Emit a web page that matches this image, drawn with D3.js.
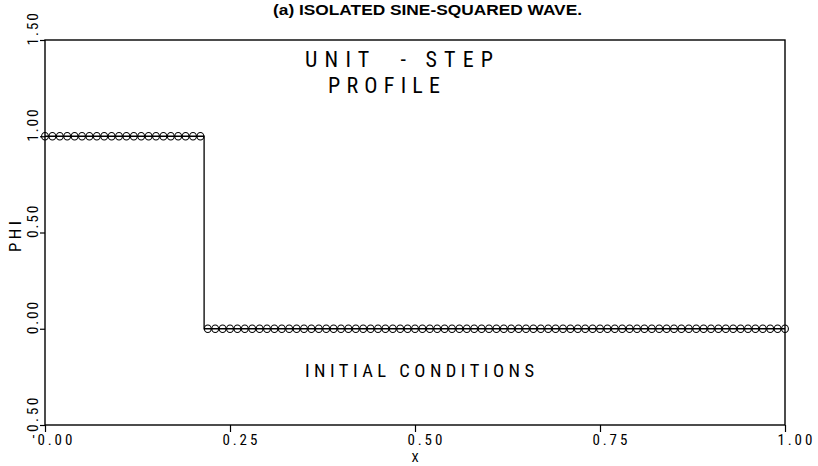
<!DOCTYPE html>
<html><head><meta charset="utf-8">
<script src="https://cdn.jsdelivr.net/npm/d3@7"></script>
<style>
html,body{margin:0;padding:0;background:#fff;}
svg text{fill:#000;}
</style></head>
<body>
<svg id="chart" width="818" height="466"></svg>
<script>
// ---- data ----
const gridStep = 0.01;               // grid spacing of the plotted points
const phiValues = [
  1,1,1,1,1,1,1,1,1,1, 1,1,1,1,1,1,1,1,1,1, 1,1,
  0,0,0,0,0,0,0,0, 0,0,0,0,0,0,0,0,0,0, 0,0,0,0,0,0,0,0,0,0,
  0,0,0,0,0,0,0,0,0,0, 0,0,0,0,0,0,0,0,0,0, 0,0,0,0,0,0,0,0,0,0,
  0,0,0,0,0,0,0,0,0,0, 0,0,0,0,0,0,0,0,0,0, 0
];
const xTickValues = [0, 0.25, 0.5, 0.75, 1.0];
const xTickLabels = ["0.00", "0.25", "0.50", "0.75", "1.00"];
const yTickValues = [-0.5, 0, 0.5, 1.0, 1.5];
const yTickLabels = ["-0.50", "0.00", "0.50", "1.00", "1.50"];
const titleText = "(a) ISOLATED SINE-SQUARED WAVE.";
const xLabel = "X";
const yLabel = "PHI";
const noteTop1 = "UNIT  - STEP";
const noteTop2 = "PROFILE";
const noteBottom = "INITIAL CONDITIONS";

const points = phiValues.map((v, i) => ({x: i * gridStep, y: v}));

// ---- layout ----
const FONT = "'Liberation Sans Narrow', 'Roboto Condensed', 'Liberation Sans', sans-serif";
const svg = d3.select("#chart");
const L = 45, R = 785, T = 40, B = 425;
const x = d3.scaleLinear().domain([0, 1]).range([L, R]);
const y = d3.scaleLinear().domain([-0.5, 1.5]).range([B, T]);

// title
svg.append("text")
  .attr("x", 273).attr("y", 15)
  .attr("textLength", 309).attr("lengthAdjust", "spacingAndGlyphs")
  .style("font-family", "'Liberation Sans', Arial, sans-serif")
  .style("font-weight", "bold").style("font-size", "14px")
  .text(titleText);

// frame
svg.append("rect")
  .attr("x", L).attr("y", T).attr("width", R - L).attr("height", B - T)
  .attr("fill", "none").attr("stroke", "#000").attr("stroke-width", 1.4);

function styleLabel(sel, size) {
  sel.style("font-family", FONT)
     .style("font-size", size + "px")
     .attr("lengthAdjust", "spacing")
     .attr("fill", "#000");
}

// x axis
const xa = svg.append("g").attr("transform", `translate(0,${B})`)
  .call(d3.axisBottom(x).tickValues(xTickValues)
    .tickFormat((d, i) => xTickLabels[i]).tickSize(7));
xa.select(".domain").remove();
xa.selectAll("line").attr("stroke", "#000").attr("stroke-width", 1.2);
xa.selectAll("text")
  .attr("text-anchor", "start").attr("x", -8).attr("y", 20).attr("dy", null)
  .call(styleLabel, 15)
  .attr("textLength", function () { return this.textContent.length * 9.2 - 2; });

// y axis
const ya = svg.append("g").attr("transform", `translate(${L},0)`)
  .call(d3.axisLeft(y).tickValues(yTickValues)
    .tickFormat((d, i) => yTickLabels[i]).tickSize(5));
ya.select(".domain").remove();
ya.selectAll("line").attr("stroke", "#000").attr("stroke-width", 1.2);
ya.selectAll("text")
  .attr("text-anchor", "start")
  .attr("transform", "rotate(-90)")
  .attr("x", function () { return this.textContent.startsWith("-") ? -13 : -5; })
  .attr("y", -7).attr("dy", null)
  .call(styleLabel, 15.5)
  .attr("textLength", function () { return this.textContent.length * 8.6 - 2; });

// axis titles
svg.append("text").attr("x", x(0.5)).attr("y", 462)
  .attr("text-anchor", "middle")
  .style("font-family", FONT).style("font-size", "13px")
  .text(xLabel);
svg.append("text")
  .attr("transform", `translate(21,${y(0.5) + 4}) rotate(-90)`)
  .attr("text-anchor", "middle")
  .attr("textLength", 31).attr("lengthAdjust", "spacing")
  .style("font-family", FONT).style("font-size", "17px")
  .text(yLabel);

// line (step drawn at midpoint between grid nodes)
const line = d3.line().x(d => x(d.x)).y(d => y(d.y)).curve(d3.curveStep);
svg.append("path").datum(points)
  .attr("d", line).attr("fill", "none")
  .attr("stroke", "#000").attr("stroke-width", 1.3);

// markers
svg.append("g").selectAll("ellipse").data(points).join("ellipse")
  .attr("cx", d => x(d.x)).attr("cy", d => y(d.y)).attr("rx", 3.4).attr("ry", 3.8)
  .attr("fill", "none").attr("stroke", "#000").attr("stroke-width", 1.1);

// annotations
function note(txt, px, py, size, len) {
  svg.append("text").attr("x", px).attr("y", py)
    .attr("xml:space", "preserve").style("white-space", "pre")
    .attr("textLength", len).attr("lengthAdjust", "spacing")
    .style("font-family", FONT).style("font-size", size + "px")
    .text(txt);
}
note(noteTop1, 305, 67, 22, 188);
note(noteTop2, 328, 93, 22, 112);
note(noteBottom, 305, 377, 18.5, 229);
</script>
</body></html>
